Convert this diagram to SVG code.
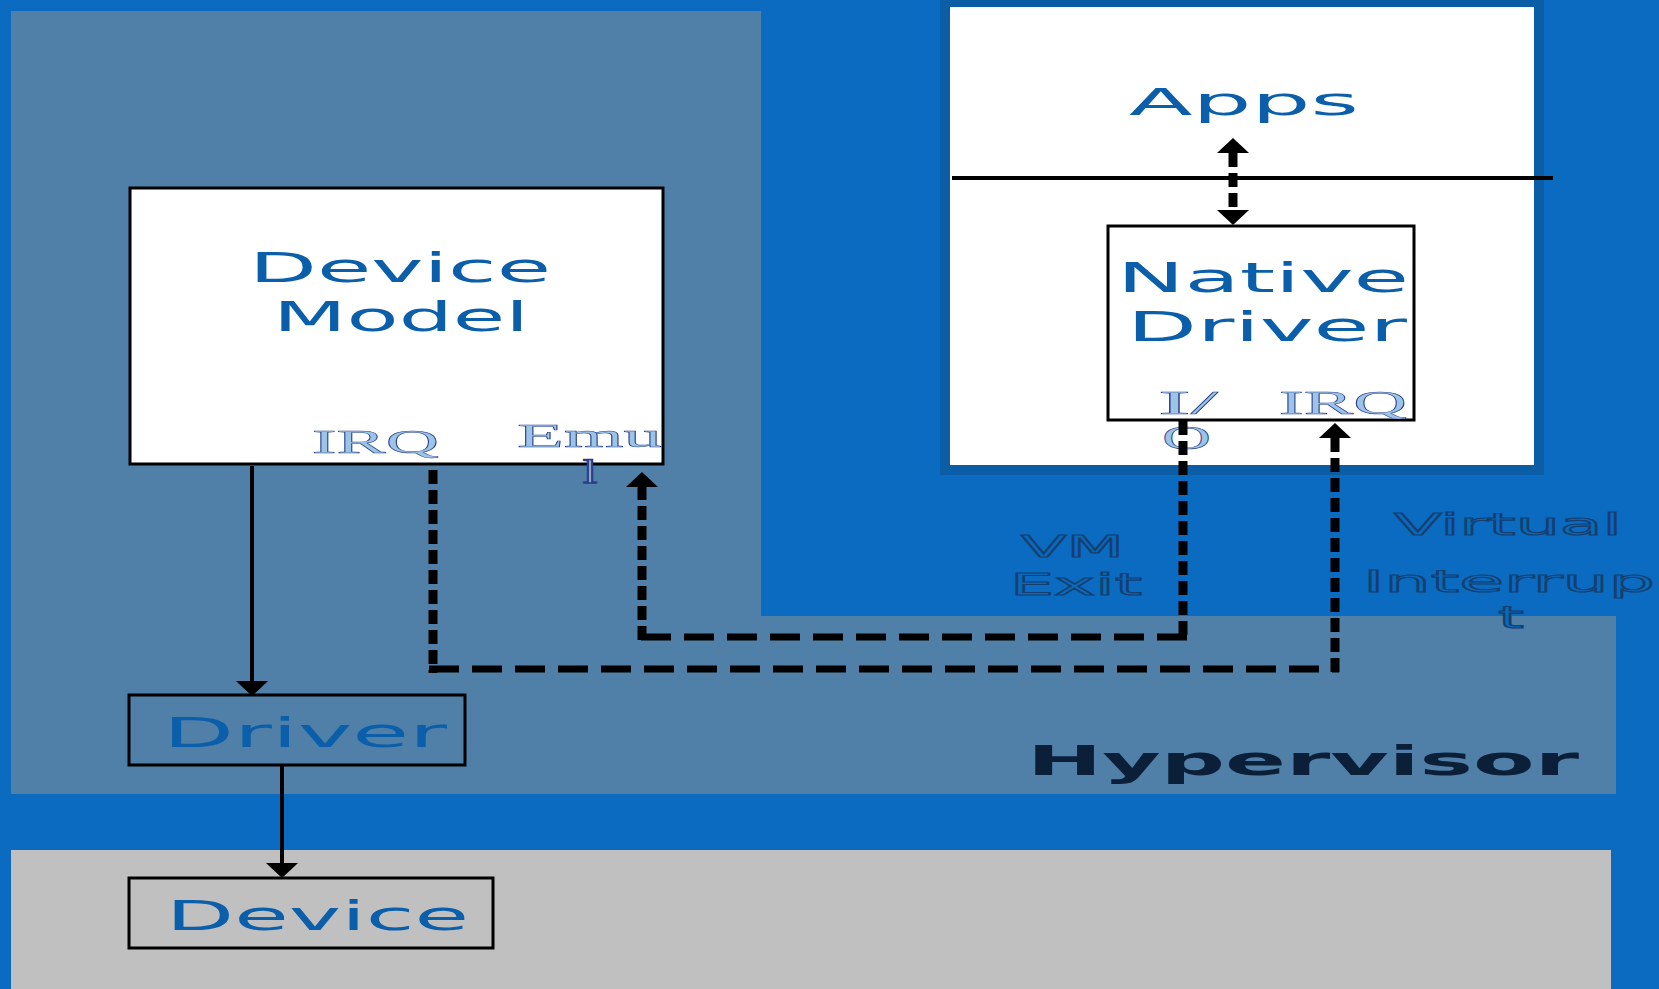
<svg xmlns="http://www.w3.org/2000/svg" width="1659" height="989" viewBox="0 0 1659 989">
  <style>
    .lbl{font-family:"DejaVu Sans","Liberation Sans",sans-serif;fill:#0B5FAA;font-size:40px}
    .hyp{font-family:"DejaVu Sans","Liberation Sans",sans-serif;font-weight:bold;fill:#0C1F38;font-size:41px}
    .sm{font-family:"Liberation Serif","DejaVu Serif",serif;fill:#9cc4e6;stroke:#2a3f8c;stroke-width:0.5;font-size:33px}
    .out{font-family:"DejaVu Sans","Liberation Sans",sans-serif;fill:#0A69BB;stroke:#143f70;stroke-width:1.2;font-size:31px}
    .box{fill:#fff;stroke:#000;stroke-width:3}
    .obox{fill:none;stroke:#000;stroke-width:3}
    .solid{stroke:#000;stroke-width:4;fill:none}
    .dv{stroke:#000;stroke-width:9;stroke-dasharray:14 6;fill:none}
    .dh{stroke:#000;stroke-width:7;stroke-dasharray:30 13;fill:none}
  </style>
  <defs>
    <marker id="ah" viewBox="0 0 15 32" refX="0" refY="16" markerWidth="15" markerHeight="32" markerUnits="userSpaceOnUse" orient="auto-start-reverse">
      <path d="M0,0 L15,16 L0,32 z" fill="#000"/>
    </marker>
  </defs>

  <!-- backgrounds -->
  <rect x="0" y="0" width="1659" height="989" fill="#0A6BC0"/>
  <polygon points="11,11 761,11 761,616 1616,616 1616,794 11,794" fill="#5080A8"/>
  <rect x="11" y="850" width="1600" height="139" fill="#C0C0C0"/>
  <text class="hyp" x="1027" y="775" textLength="552" lengthAdjust="spacingAndGlyphs">Hypervisor</text>

  <!-- VM box -->
  <g id="vm">
    <rect x="945" y="2" width="594" height="468" fill="#fff" stroke="#0B5EA6" stroke-width="10"/>
    <line x1="952" y1="178" x2="1553" y2="178" stroke="#000" stroke-width="4"/>
  </g>

  <g id="apps">
    <text class="lbl" x="1129" y="115" style="font-size:37px" textLength="230" lengthAdjust="spacingAndGlyphs">Apps</text>
  </g>

  <g id="native-driver">
    <rect class="box" x="1108" y="226" width="306" height="194"/>
    <text class="lbl" x="1117" y="292" textLength="292" lengthAdjust="spacingAndGlyphs">Native</text>
    <text class="lbl" x="1127" y="341" textLength="280" lengthAdjust="spacingAndGlyphs">Driver</text>
    <text class="sm" x="1158" y="414" textLength="60" lengthAdjust="spacingAndGlyphs">I/</text>
    <text class="sm" x="1162" y="449" textLength="49" lengthAdjust="spacingAndGlyphs">O</text>
    <text class="sm" x="1279" y="414" textLength="128" lengthAdjust="spacingAndGlyphs">IRQ</text>
  </g>

  <g id="device-model">
    <rect class="box" x="130" y="188" width="533" height="276"/>
    <text class="lbl" x="249" y="282" textLength="302" lengthAdjust="spacingAndGlyphs">Device</text>
    <text class="lbl" x="273" y="331" textLength="256" lengthAdjust="spacingAndGlyphs">Model</text>
    <text class="sm" x="312" y="453" textLength="127" lengthAdjust="spacingAndGlyphs">IRQ</text>
    <text class="sm" x="517" y="447" textLength="145" lengthAdjust="spacingAndGlyphs">Emu</text>
    <text class="sm" x="583" y="483" textLength="14" lengthAdjust="spacingAndGlyphs" style="stroke-width:1.5">l</text>
  </g>

  <g id="driver">
    <rect class="obox" x="129" y="695" width="336" height="70"/>
    <text class="lbl" x="163" y="747" textLength="284" lengthAdjust="spacingAndGlyphs">Driver</text>
  </g>

  <g id="device">
    <rect class="obox" x="129" y="878" width="364" height="70"/>
    <text class="lbl" x="166" y="930" textLength="303" lengthAdjust="spacingAndGlyphs">Device</text>
  </g>

  <g id="labels">
    <text class="out" x="1021" y="557" textLength="103" lengthAdjust="spacingAndGlyphs">VM</text>
    <text class="out" x="1010" y="595" textLength="132" lengthAdjust="spacingAndGlyphs">Exit</text>
    <text class="out" x="1394" y="535" textLength="228" lengthAdjust="spacingAndGlyphs">Virtual</text>
    <text class="out" x="1363" y="592" textLength="292" lengthAdjust="spacingAndGlyphs">Interrup</text>
    <text class="out" x="1498" y="628" textLength="26" lengthAdjust="spacingAndGlyphs">t</text>
  </g>

  <g id="connectors">
    <path class="solid" d="M252,466 V681" marker-end="url(#ah)"/>
    <path class="solid" d="M282,766 V863" marker-end="url(#ah)"/>
    <path class="dv" d="M1233,153 V210" marker-start="url(#ah)" marker-end="url(#ah)"/>
    <!-- IRQ path -->
    <path class="dv" d="M433,470 V673"/>
    <path class="dh" d="M429,669 H1339"/>
    <path class="dv" d="M1335,672 V438" marker-end="url(#ah)"/>
    <!-- I/O emulation path -->
    <path class="dv" d="M1183,421 V641"/>
    <path class="dh" d="M1187,637 H638"/>
    <path class="dv" d="M642,640 V487" marker-end="url(#ah)"/>
  </g>
</svg>
